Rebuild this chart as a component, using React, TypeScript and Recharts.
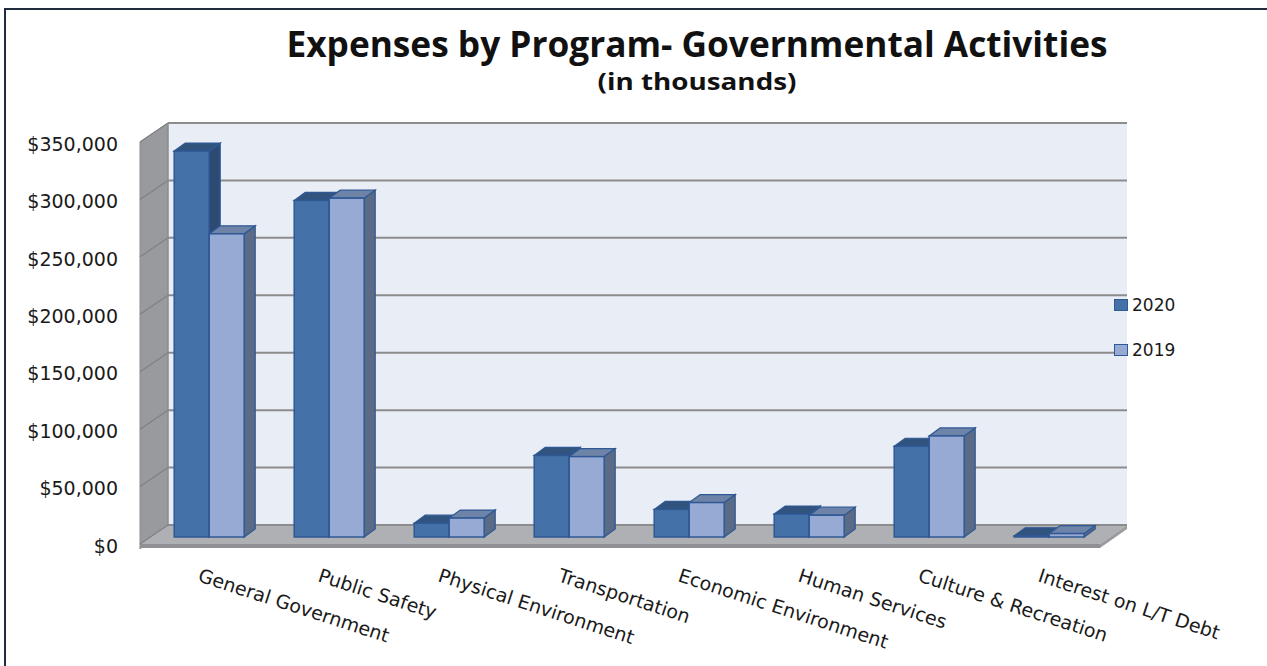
import { Bar, BarChart, ReferenceArea, XAxis, YAxis } from "recharts";

const categories = [
  "General Government",
  "Public Safety",
  "Physical Environment",
  "Transportation",
  "Economic Environment",
  "Human Services",
  "Culture & Recreation",
  "Interest on L/T Debt",
];
const expenses2020 = [336000, 293000, 12000, 71000, 24000, 20000, 79000, 1000];
const expenses2019 = [264000, 295000, 16500, 70000, 30000, 19000, 88000, 3000];
const yTicks = [0, 50000, 100000, 150000, 200000, 250000, 300000, 350000];
const yTickLabels = ["$0", "$50,000", "$100,000", "$150,000", "$200,000", "$250,000", "$300,000", "$350,000"];
const seriesNames = ["2020", "2019"];

const data = categories.map((name, i) => ({ name, y2020: expenses2020[i], y2019: expenses2019[i] }));

const FONT = "'DejaVu Sans', sans-serif";
const DX = 11; // bar depth
const DY = 8;
const colors2020 = { face: "#4472A8", top: "#31547F", side: "#2C4A72" };
const colors2019 = { face: "#96AAD3", top: "#6E83A8", side: "#5B6B86" };

function Bar3D(props: any) {
  const { x, y, width, height, c } = props;
  if (width == null || height == null) return null;
  const stroke = "#2F5894";
  return (
    <g>
      <polygon
        points={`${x + width},${y} ${x + width + DX},${y - DY} ${x + width + DX},${y + height - DY} ${x + width},${y + height}`}
        fill={c.side}
        stroke={stroke}
        strokeWidth={1.2}
      />
      <polygon
        points={`${x},${y} ${x + DX},${y - DY} ${x + width + DX},${y - DY} ${x + width},${y}`}
        fill={c.top}
        stroke={stroke}
        strokeWidth={1.2}
      />
      <rect x={x} y={y} width={width} height={height} fill={c.face} stroke={stroke} strokeWidth={1.5} />
    </g>
  );
}

// back wall, side wall, floor and gridlines, drawn around the plot area (bars stand mid-depth)
function Walls(props: any) {
  const { x, y, width, height } = props;
  const L = x, R = x + width, T = y, B = y + height;
  const yAt = (v: number) => B - (v / yTicks[yTicks.length - 1]) * height;
  const grid = "#8C8C8C";
  return (
    <g>
      <rect x={L + 19} y={T - 12} width={R - L - 1} height={B - T} fill="#E9EDF6" />
      <polygon points={`${L - 9},${T + 7} ${L + 19},${T - 12} ${L + 19},${B - 12} ${L - 9},${B + 12}`} fill="#999A9D" stroke="#8A8B8E" />
      <polygon points={`${L + 19},${B - 12} ${R + 18},${B - 12} ${R - 9},${B + 7} ${L - 9},${B + 7}`} fill="#AEB0B3" />
      <polygon points={`${L - 9},${B + 7} ${R - 9},${B + 7} ${R - 9},${B + 11} ${L - 9},${B + 11}`} fill="#8E9093" />
      <polygon points={`${R - 9},${B + 7} ${R + 18},${B - 12} ${R + 18},${B - 8} ${R - 9},${B + 11}`} fill="#9A9C9F" />
      {yTicks.map((v) => (
        <g key={v}>
          <line x1={L + 19} y1={yAt(v) - 12} x2={R + 18} y2={yAt(v) - 12} stroke={grid} strokeWidth={2} />
          <line x1={L - 9} y1={yAt(v) + 7} x2={L + 19} y2={yAt(v) - 12} stroke="#7F8083" strokeWidth={1.2} />
        </g>
      ))}
      <line x1={L + 19} y1={T - 12} x2={L + 19} y2={B - 12} stroke={grid} strokeWidth={1} />
    </g>
  );
}

function YTick(props: any) {
  const { y, index } = props;
  return (
    <text x={118} y={y + 9} dy="0.35em" textAnchor="end" fontFamily={FONT} fontSize={19} fill="#1A1A1A">
      {yTickLabels[index]}
    </text>
  );
}

function XTick(props: any) {
  const { x, payload } = props;
  const tx = x - 12;
  const ty = 581;
  return (
    <text x={tx} y={ty} transform={`rotate(18 ${tx} ${ty})`} textAnchor="start" fontFamily={FONT} fontSize={19} fill="#1A1A1A">
      {payload.value}
    </text>
  );
}

function LegendBox() {
  const swatches = [colors2020.face, colors2019.face];
  return (
    <div style={{ position: "absolute", left: 1114, top: 282, fontFamily: FONT, fontSize: 17, color: "#1A1A1A" }}>
      {seriesNames.map((n, i) => (
        <div key={n} style={{ display: "flex", alignItems: "center", height: 45 }}>
          <span style={{ width: 12, height: 10, background: swatches[i], border: "1px solid #2F5894", marginRight: 4 }} />
          <span>{n}</span>
        </div>
      ))}
    </div>
  );
}

export default function App() {
  return (
    <div style={{ position: "absolute", left: 0, top: 0, width: 1267, height: 666, background: "#fff", overflow: "hidden" }}>
      <div style={{ position: "absolute", left: 4, top: 8, width: 1270, height: 670, border: "2px solid #1F2D3D", boxSizing: "border-box" }} />
      <svg style={{ position: "absolute", left: 0, top: 0 }} width={1267} height={110}>
        <text x={697} y={57} textAnchor="middle" fontFamily="'Open Sans', sans-serif" fontWeight="bold" fontSize={35} textLength={821} lengthAdjust="spacingAndGlyphs" fill="#111">
          Expenses by Program- Governmental Activities
        </text>
        <text x={697} y={90} textAnchor="middle" fontFamily="'Open Sans', sans-serif" fontWeight="bold" fontSize={24} textLength={199} lengthAdjust="spacingAndGlyphs" fill="#111">
          (in thousands)
        </text>
      </svg>
      <div style={{ position: "absolute", left: 0, top: 0 }}>
        <BarChart
          width={1267}
          height={666}
          data={data}
          margin={{ top: 135, right: 158, bottom: 89, left: 0 }}
          barCategoryGap="21%"
          barGap={0}
        >
          <ReferenceArea y1={0} y2={350000} ifOverflow="visible" shape={(p: any) => <Walls {...p} />} />
          <XAxis dataKey="name" height={40} axisLine={false} tickLine={false} interval={0} tick={(p: any) => <XTick {...p} />} />
          <YAxis width={149} domain={[0, 350000]} ticks={yTicks} axisLine={false} tickLine={false} tick={(p: any) => <YTick {...p} />} />
          <Bar dataKey="y2020" name="2020" isAnimationActive={false} shape={(p: any) => <Bar3D {...p} c={colors2020} />} />
          <Bar dataKey="y2019" name="2019" isAnimationActive={false} shape={(p: any) => <Bar3D {...p} c={colors2019} />} />
        </BarChart>
      </div>
      <LegendBox />
    </div>
  );
}
